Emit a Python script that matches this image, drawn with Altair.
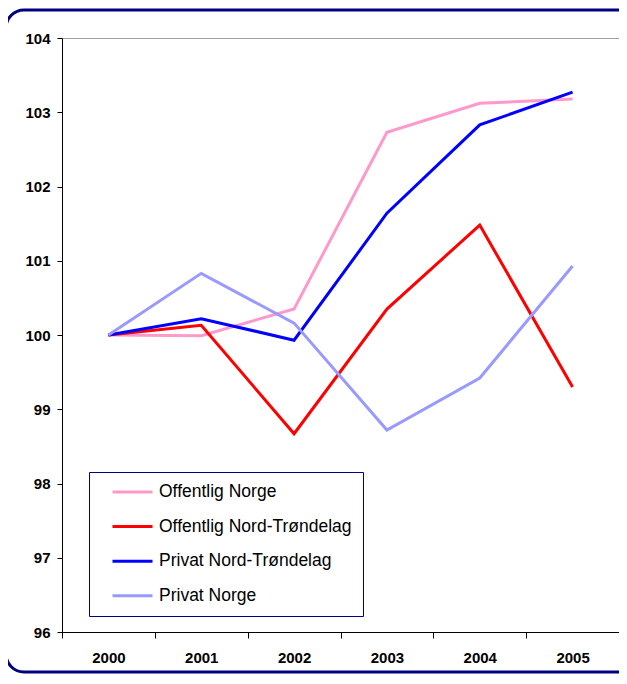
import altair as alt
import pandas as pd

years = ["2000", "2001", "2002", "2003", "2004", "2005"]
series = ["Offentlig Norge", "Offentlig Nord-Trøndelag", "Privat Nord-Trøndelag", "Privat Norge"]
offentlig_norge = [100.0, 99.99, 100.35, 102.73, 103.12, 103.18]
offentlig_nt = [100.0, 100.13, 98.67, 100.35, 101.48, 99.30]
privat_nt = [100.0, 100.22, 99.93, 101.64, 102.83, 103.27]
privat_norge = [100.0, 100.83, 100.16, 98.72, 99.42, 100.93]
colors = ["#FF99CC", "#FF0000", "#0000FF", "#9999FF"]
y_ticks = [96, 97, 98, 99, 100, 101, 102, 103, 104]

values = [offentlig_norge, offentlig_nt, privat_nt, privat_norge]
rows = []
for i, (name, vals) in enumerate(zip(series, values)):
    for y, v in zip(years, vals):
        rows.append({"year": y, "value": v, "series": name, "order": i})
df = pd.DataFrame(rows)

font = "Liberation Sans"

frame = alt.Chart(alt.Data(values=[{}])).mark_rect(
    fill="white", fillOpacity=0, stroke="#000080", strokeWidth=3, cornerRadius=18
).encode(
    x=alt.value(-56), x2=alt.value(575), y=alt.value(-28), y2=alt.value(634)
)

lines = alt.Chart(df).mark_line(strokeWidth=3).encode(
    x=alt.X(
        "year:O",
        scale=alt.Scale(type="band", paddingInner=0, paddingOuter=0),
        bandPosition=0.5,
        axis=alt.Axis(
            title=None, labelAngle=0, tickBand="extent", tickSize=6,
            labelPadding=12, labelFont=font, labelFontSize=15, labelFontWeight="bold",
            labelColor="black", domainColor="black", tickColor="black",
        ),
    ),
    y=alt.Y(
        "value:Q",
        scale=alt.Scale(domain=[96, 104], nice=False, zero=False),
        axis=alt.Axis(
            title=None, values=y_ticks, format="d", grid=False, tickSize=5,
            labelPadding=7, labelFont=font, labelFontSize=15, labelFontWeight="bold",
            labelColor="black", domainColor="black", tickColor="black",
        ),
    ),
    color=alt.Color(
        "series:N",
        scale=alt.Scale(domain=series, range=colors),
        legend=alt.Legend(
            title=None, orient="none", legendX=27, legendY=434,
            strokeColor="#000080", fillColor="white", padding=11,
            symbolType="stroke", symbolSize=1600, symbolStrokeWidth=3,
            symbolOffset=11, labelOffset=5, clipHeight=18, rowPadding=16.6,
            labelFont=font, labelFontSize=17.5, labelColor="black", labelLimit=400,
        ),
    ),
    order=alt.Order("order:Q"),
    detail="series:N",
)

chart = alt.layer(frame, lines).properties(
    width=557, height=594,
    padding={"left": 54, "top": 30, "right": 0, "bottom": 44},
    autosize=alt.AutoSizeParams(type="none"),
).configure_view(stroke="#A0A0A0", strokeWidth=1)

chart.save("out.html", embed_options={"renderer": "svg", "actions": False})
